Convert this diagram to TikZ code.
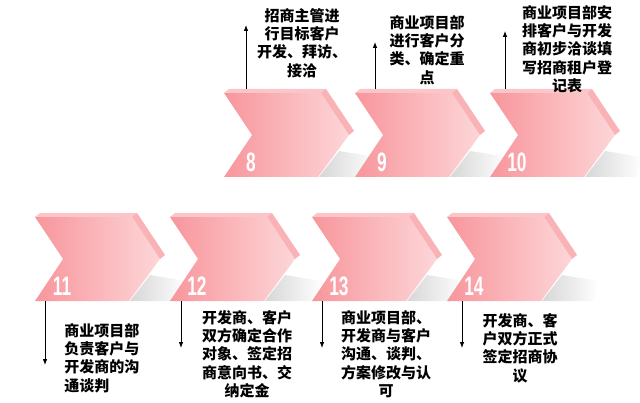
\documentclass[tikz,border=0pt]{standalone}
\usepackage{graphicx}
\usepackage{fontspec}
\setmainfont{Liberation Sans}
\newfontfamily\cjk{Noto Sans CJK SC}
\usetikzlibrary{arrows.meta}

\definecolor{chevL}{RGB}{247,150,156}
\definecolor{chevR}{RGB}{253,214,216}
\definecolor{chevTop}{RGB}{251,198,201}
\definecolor{chevSide}{RGB}{249,178,182}

\tikzset{
	steptext/.style={inner sep=0.75pt, align=center, font=\cjk\bfseries\fontsize{11.25}{13.7}\selectfont},
	stepnum/.style={inner sep=0pt, text=white, font=\bfseries\fontsize{20}{20}\selectfont},
	lead/.style={line width=0.75pt, -{Latex[length=4.5pt,width=3.5pt]}},
	pics/chevron/.style={code={
		\begin{scope}[yscale=-1]
		%Shape: shadow
		\shade[left color=gray!32, right color=white] (95,88) -- (115,62) -- (152,68) -- (146,88) -- cycle;
		%Shape: front face
		\shade[left color=chevL, right color=chevR] (0,4) -- (97,4) -- (125,46) -- (94,88) -- (0,88) -- (28,46) -- cycle;
		%Shape: top and side
		\fill[chevTop] (0,4) -- (5,0) -- (102,0) -- (97,4) -- cycle;
		\fill[chevSide] (97,4) -- (102,0) -- (130,42) -- (125,46) -- cycle;
		% Text Node
		\node[stepnum] (-num) at (27,73) {\scalebox{0.65}[1]{#1}};
		\end{scope}
	}}
}

\begin{document}
\begin{tikzpicture}[x=0.75pt,y=0.75pt,yscale=-1,xscale=1]
		\useasboundingbox (0,0) rectangle (640,403);
		
		%Shape: Chevrons, top row
		\pic (c8) at (224,89) {chevron=8};
		\pic (c9) at (355,89) {chevron=9};
		\pic (c10) at (490,89) {chevron=10};
		%Shape: Chevrons, bottom row
		\pic (c11) at (35,213) {chevron=11};
		\pic (c12) at (170,213) {chevron=12};
		\pic (c13) at (312,213) {chevron=13};
		\pic (c14) at (447,213) {chevron=14};
		
		% Text Node
		\node[steptext, anchor=north] (d8) at (302,7) {招商主管进\\行目标客户\\开发、拜访、\\接洽};
		% Text Node
		\node[steptext, anchor=north] (d9) at (427,14) {商业项目部\\进行客户分\\类、确定重\\点};
		% Text Node
		\node[steptext, anchor=north] (d10) at (567,4) {商业项目部安\\排客户与开发\\商初步洽谈填\\写招商租户登\\记表};
		% Text Node
		\node[steptext, anchor=north west, align=left] (d11) at (63,322) {商业项目部\\负责客户与\\开发商的沟\\通谈判};
		% Text Node
		\node[steptext, anchor=north] (d12) at (247,309) {开发商、客户\\双方确定合作\\对象、签定招\\商意向书、交\\纳定金};
		% Text Node
		\node[steptext, anchor=north] (d13) at (386,309) {商业项目部、\\开发商与客户\\沟通、谈判、\\方案修改与认\\可};
		% Text Node
		\node[steptext, anchor=north] (d14) at (520,312) {开发商、客\\户双方正式\\签定招商协\\议};
		
		%Straight Lines: arrow ends
		\coordinate (a8) at (246,89);   \coordinate (t8) at (246,25);
		\coordinate (a9) at (375,89);   \coordinate (t9) at (375,42);
		\coordinate (a10) at (505,89);  \coordinate (t10) at (505,31);
		\coordinate (a11) at (45,301);  \coordinate (t11) at (45,365);
		\coordinate (a12) at (181,301); \coordinate (t12) at (181,348);
		\coordinate (a13) at (322,301); \coordinate (t13) at (322,348);
		\coordinate (a14) at (462,301); \coordinate (t14) at (462,348);
		%Straight Lines
		\foreach \k in {8,...,14}
			\draw[lead] (a\k) -- (t\k);
		
\end{tikzpicture}
\end{document}
